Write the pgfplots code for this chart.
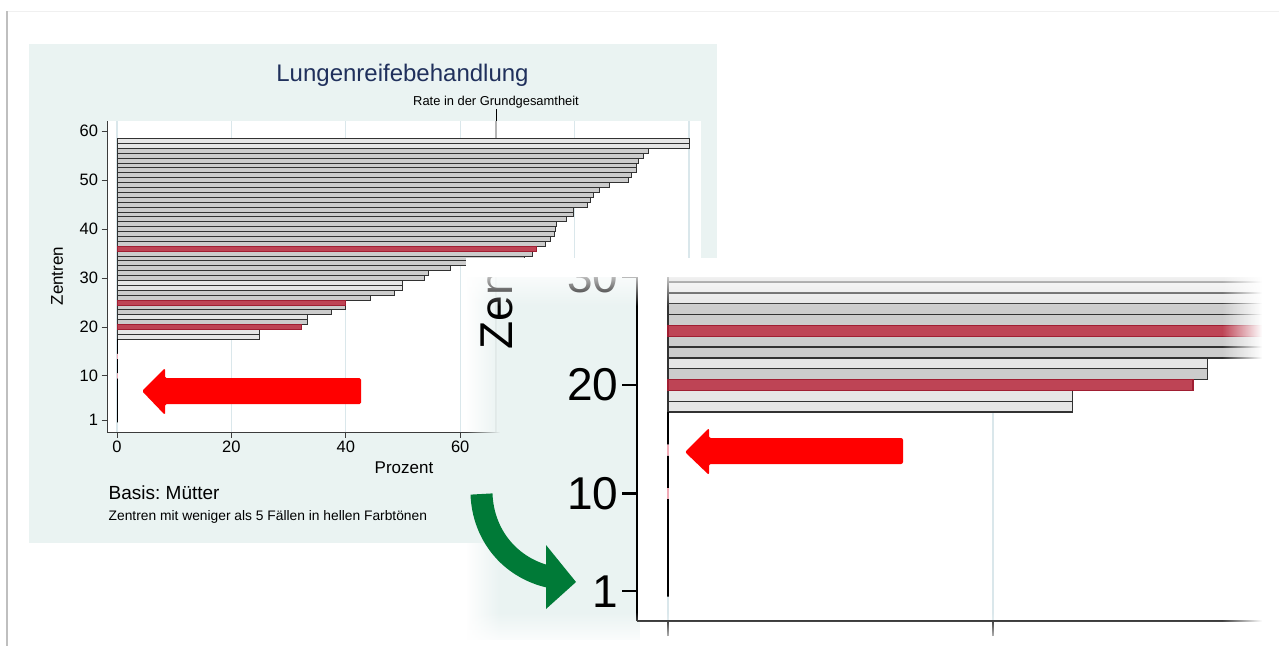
\documentclass[border=0pt]{standalone}
\usepackage{pgfplots}
\pgfplotsset{compat=1.18}
\usepackage{pgfplotstable}
\usepackage{fontspec}
\setmainfont{Liberation Sans}
\usetikzlibrary{fadings}
\frenchspacing

\definecolor{panelbg}{RGB}{234,243,242}
\definecolor{gridc}{RGB}{218,231,235}
\definecolor{lightbar}{RGB}{230,230,230}
\definecolor{medbar}{RGB}{204,204,204}
\definecolor{edgec}{RGB}{50,50,50}
\definecolor{redbar}{RGB}{190,68,85}
\definecolor{reddraw}{RGB}{160,30,50}
\definecolor{pinkbar}{RGB}{240,170,182}
\definecolor{titlec}{RGB}{32,48,92}
\definecolor{axisc}{RGB}{60,60,60}
\definecolor{refgray}{RGB}{180,180,180}
\definecolor{arrowgreen}{RGB}{0,122,55}

\newcommand\fs[1]{\fontsize{#1}{#1}\selectfont}

% centre (c) and percentage (v); groups by fill colour
\pgfplotstableread{
c v
58 100
57 100
29 49.8
28 49.8
22 33.2
19 24.9
18 24.9
}\lighttab

\pgfplotstableread{
c v
56 92.9
55 92.1
54 91.1
53 90.8
52 90.8
51 90.0
50 89.4
49 86.1
48 84.3
47 83.3
46 82.8
45 82.2
44 79.8
43 79.8
42 78.6
41 76.8
40 76.7
39 76.4
38 75.7
37 74.9
35 72.6
34 71.2
33 70.9
32 58.3
31 54.5
30 53.7
27 48.5
26 44.3
24 39.9
23 37.5
21 33.2
}\medtab

\pgfplotstableread{
c v
36 73.4
25 39.9
20 32.3
}\redtab

\pgfplotstableread{
c v
17 0
16 0
15 0
13 0
12 0
11 0
9 0
8 0
7 0
6 0
5 0
4 0
3 0
2 0
1 0
}\zerotab

\pgfplotstableread{
c v
14 0
10 0
}\pinktab

\pgfplotsset{
  hbar/.style={xbar, bar shift=0pt, bar width=1},
}

\begin{document}
\begin{tikzpicture}[x=1pt,y=1pt]
\useasboundingbox (0,0) rectangle (1279,-646);
\fill[white] (0,0) rectangle (1279,-646);
\draw[black!6, line width=0.8pt] (8,-11) -- (1279,-11);
\draw[black!25, line width=1.6pt] (7,-11) -- (7,-646);

% main chart panel
\fill[panelbg] (29,-44) rectangle (717,-543);
\node[anchor=base, text=titlec, font=\fs{24}] at (402.5,-81.5) {Lungenreifebehandlung};
\node[anchor=base, font=\fs{12.9}] at (496,-105.5) {Rate in der Grundgesamtheit};
\draw[black, line width=0.8pt] (496.5,-109) -- (496.5,-121);

\begin{axis}[
  at={(107pt,-432pt)}, anchor=south west,
  scale only axis, width=594pt, height=311pt,
  xmin=-1.75, xmax=102.1, ymin=-1.45, ymax=62.05,
  axis lines*=left,
  axis line style={axisc, line width=0.9pt},
  axis background/.style={fill=white},
  xtick={0,20,40,60,80,100}, ytick={1,10,20,30,40,50,60},
  tick align=outside, major tick length=5.5pt,
  every tick/.style={axisc, line width=0.9pt},
  xmajorgrids, major grid style={gridc, line width=1.2pt},
  tick label style={font=\fs{16.5}},
  /pgf/number format/assume math mode=true,
  xlabel={Prozent}, ylabel={Zentren},
  x label style={at={(axis description cs:0.5,0)}, anchor=base, yshift=-41.3pt, font=\fs{17}},
  y label style={at={(axis description cs:-0.0842,0.5016)}, anchor=center, font=\fs{17}},
]
\draw[refgray, line width=2.5pt] (axis cs:66.3,-1.45) -- (axis cs:66.3,62.05);
\addplot[hbar, fill=lightbar, draw=edgec, line width=0.7pt] table[x=v, y=c] {\lighttab};
\addplot[hbar, fill=medbar, draw=edgec, line width=0.7pt] table[x=v, y=c] {\medtab};
\addplot[hbar, fill=redbar, draw=reddraw, line width=0.7pt] table[x=v, y=c] {\redtab};
\addplot[hbar, fill=black, draw=black, line width=0.9pt] table[x=v, y=c] {\zerotab};
\addplot[hbar, fill=pinkbar, draw=pinkbar, line width=0.9pt] table[x=v, y=c] {\pinktab};
\end{axis}

\node[anchor=base west, inner sep=0pt, font=\fs{19}] at (108.5,-499) {Basis: Mütter};
\node[anchor=base west, inner sep=0pt, font=\fs{13.8}] at (108.5,-520) {Zentren mit weniger als 5 Fällen in hellen Farbtönen};

% red arrow, main chart
\fill[red, rounded corners=1.5pt] (142,-391) -- (165,-368) -- (165,-378) -- (361,-378)
  -- (361,-404) -- (165,-404) -- (165,-415) -- cycle;

% magnified inset
\fill[panelbg] (500,-262) rectangle (640,-646);
\fill[panelbg, path fading=west] (466,-262) rectangle (500,-646);

\begin{axis}[
  at={(637pt,-621pt)}, anchor=south west,
  scale only axis, width=642pt, height=359pt,
  xmin=-1.908, xmax=37.6, ymin=-1.75, ymax=31.34,
  axis lines*=left,
  axis line style={black, line width=2.2pt},
  axis background/.style={fill=white},
  xtick={0,20}, xticklabels={}, ytick={1,10,20,30},
  tick align=outside, major tick length=15pt,
  every tick/.style={black, line width=2.2pt},
  xmajorgrids, major grid style={gridc, line width=2.5pt},
  tick label style={font=\fs{46}},
  /pgf/number format/assume math mode=true,
]
\addplot[hbar, fill=lightbar, draw=edgec, line width=1.4pt] table[x=v, y=c] {\lighttab};
\addplot[hbar, fill=medbar, draw=edgec, line width=1.4pt] table[x=v, y=c] {\medtab};
\addplot[hbar, fill=redbar, draw=reddraw, line width=1.4pt] table[x=v, y=c] {\redtab};
\addplot[hbar, fill=black, draw=black, line width=2pt] table[x=v, y=c] {\zerotab};
\addplot[hbar, fill=pinkbar, draw=pinkbar, line width=2pt] table[x=v, y=c] {\pinktab};
\end{axis}

\begin{scope}
\clip (466,-262) rectangle (640,-646);
\node[rotate=90, anchor=center, font=\fs{46}] at (497,-270) {Zentren};
\end{scope}

% red arrow, inset
\fill[red, rounded corners=2pt] (685,-452) -- (709,-428) -- (709,-438) -- (903,-438)
  -- (903,-464) -- (709,-464) -- (709,-475) -- cycle;

% soft edges of the inset
\fill[white] (466,-258) rectangle (1279,-277);
\fill[white, path fading=south] (466,-266) rectangle (1279,-306);
\fill[white, path fading=west] (1222,-258) rectangle (1262,-646);
\fill[white] (1262,-258) rectangle (1279,-646);
\fill[white, path fading=north] (466,-612) rectangle (1279,-646);
\fill[white] (466,-640) rectangle (1279,-646);

% green arrow
\draw[arrowgreen, line width=22pt] (481.5,-494) .. controls (483,-535) and (510,-568) .. (550,-577);
\fill[arrowgreen] (546,-545) -- (576,-582) -- (546,-609) -- cycle;
\end{tikzpicture}
\end{document}
